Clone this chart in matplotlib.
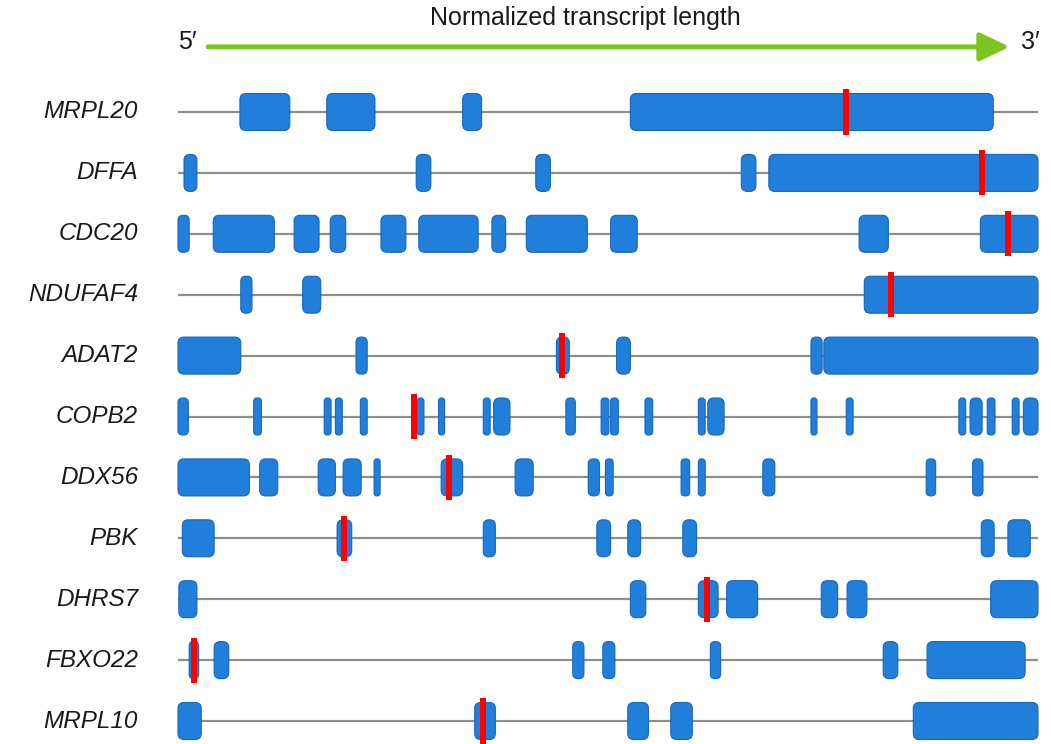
import matplotlib.pyplot as plt
from matplotlib.patches import FancyBboxPatch

plt.rcParams['font.family'] = ['Liberation Sans', 'DejaVu Sans']

genes = ['MRPL20', 'DFFA', 'CDC20', 'NDUFAF4', 'ADAT2', 'COPB2',
         'DDX56', 'PBK', 'DHRS7', 'FBXO22', 'MRPL10']

# exon (start, end) in normalized transcript length
exons = {
    'MRPL20': [(0.072, 0.130), (0.173, 0.229), (0.331, 0.353), (0.526, 0.948)],
    'DFFA': [(0.007, 0.022), (0.277, 0.294), (0.416, 0.433), (0.655, 0.672),
             (0.687, 1.0)],
    'CDC20': [(0.0, 0.013), (0.041, 0.112), (0.135, 0.164), (0.177, 0.195),
              (0.236, 0.265), (0.280, 0.349), (0.365, 0.381), (0.405, 0.476),
              (0.503, 0.534), (0.792, 0.826), (0.933, 1.0)],
    'NDUFAF4': [(0.073, 0.086), (0.145, 0.166), (0.798, 1.0)],
    'ADAT2': [(0.0, 0.073), (0.207, 0.220), (0.440, 0.455), (0.510, 0.526),
              (0.736, 0.749), (0.751, 1.0)],
    'COPB2': [(0.0, 0.012), (0.088, 0.097), (0.170, 0.178), (0.183, 0.191),
              (0.212, 0.220), (0.278, 0.286), (0.303, 0.310), (0.355, 0.363),
              (0.367, 0.386), (0.451, 0.462), (0.492, 0.501), (0.503, 0.512),
              (0.543, 0.552), (0.605, 0.613), (0.616, 0.635), (0.736, 0.743),
              (0.777, 0.785), (0.908, 0.916), (0.921, 0.935), (0.941, 0.950),
              (0.970, 0.978), (0.983, 1.0)],
    'DDX56': [(0.0, 0.083), (0.095, 0.116), (0.163, 0.183), (0.192, 0.213),
              (0.228, 0.235), (0.306, 0.331), (0.392, 0.413), (0.477, 0.490),
              (0.497, 0.506), (0.585, 0.595), (0.605, 0.613), (0.680, 0.694),
              (0.870, 0.881), (0.924, 0.936)],
    'PBK': [(0.005, 0.042), (0.185, 0.202), (0.355, 0.369), (0.487, 0.503),
            (0.523, 0.538), (0.587, 0.603), (0.934, 0.949), (0.965, 0.991)],
    'DHRS7': [(0.001, 0.022), (0.526, 0.544), (0.605, 0.628), (0.638, 0.674),
              (0.748, 0.767), (0.778, 0.801), (0.945, 1.0)],
    'FBXO22': [(0.013, 0.024), (0.042, 0.059), (0.459, 0.472), (0.494, 0.508),
               (0.619, 0.631), (0.820, 0.837), (0.871, 0.985)],
    'MRPL10': [(0.0, 0.027), (0.345, 0.369), (0.523, 0.547), (0.573, 0.598),
               (0.855, 1.0)],
}

# position of the red mark on each transcript
marks = [0.777, 0.935, 0.965, 0.829, 0.447, 0.274, 0.315, 0.193, 0.615,
         0.019, 0.355]

fig = plt.figure(figsize=(10.51, 7.44), dpi=100)
ax = fig.add_axes([0, 0, 1, 1])

# pixel -> data mapping: x 0..1 spans 860 px starting at px 178, rows 60.9 px apart
px_x = 860.0
px_y = 60.9
ax.set_xlim(-178 / px_x, (1051 - 178) / px_x)
ax.set_ylim((744 - 112) / px_y, -112 / px_y)
ax.axis('off')

blue = '#1f7fdb'
edge = '#1a66b8'
txt = '#1a1a1a'
exon_h = 37 / px_y
asp = px_x / px_y

for i, g in enumerate(genes):
    ax.plot([0, 1], [i, i], color='#8e8e8e', lw=1.6, zorder=1,
            solid_capstyle='butt')
    for s, e in exons[g]:
        w = e - s
        r = min(6 / px_x, w / 2 * 0.9)
        box = FancyBboxPatch((s, i - exon_h / 2), w, exon_h,
                             boxstyle='round,pad=0,rounding_size=%f' % r,
                             mutation_aspect=asp, fc=blue, ec=edge, lw=0.8,
                             zorder=2)
        ax.add_patch(box)
    ax.vlines(marks[i], i - 0.37, i + 0.37, color='#ff0000', lw=4.3, zorder=3)
    ax.text(-40 / px_x, i, g, ha='right', va='center', fontsize=17.5,
            style='italic', color=txt)

# header: title and 5' -> 3' arrow
ax.text(0.474, -1.55, 'Normalized transcript length', ha='center',
        va='center', fontsize=18, color=txt)
ay = -1.07
ax.annotate('', xy=(0.967, ay), xytext=(0.035, ay),
            arrowprops=dict(arrowstyle='-|>,head_length=1.8,head_width=0.86',
                            mutation_scale=10, color='#7cc41f', lw=3.6,
                            shrinkA=0, shrinkB=0))
ax.text(0.011, ay - 0.08, '5\u2032', ha='center', va='center', fontsize=18,
        color=txt)
ax.text(0.991, ay - 0.08, '3\u2032', ha='center', va='center', fontsize=18,
        color=txt)

fig.savefig('out.png', dpi=100)
